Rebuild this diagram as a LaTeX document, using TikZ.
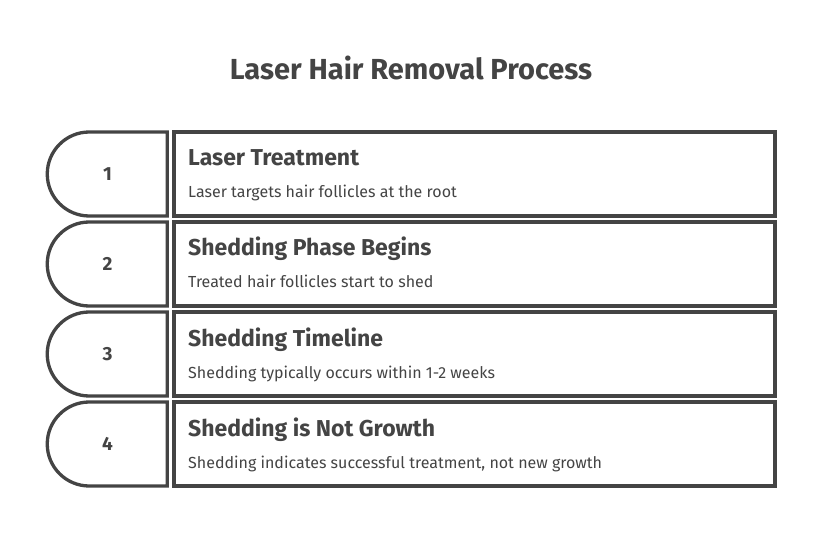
\documentclass[tikz,border=0pt]{standalone}
\usepackage{fontspec}
\setmainfont{Fira Sans}
\usetikzlibrary{shapes.misc}
\definecolor{ink}{HTML}{444444}
\begin{document}
\begin{tikzpicture}[x=1bp,y=-1bp,
  tab/.style={draw=ink, line width=3.3bp, fill=white, rounded rectangle, rounded rectangle right arc=none,
    minimum width=120bp, minimum height=84bp, inner sep=0pt, text=ink, font=\fontsize{19bp}{22bp}\selectfont\bfseries},
  card/.style={draw=ink, line width=3.3bp, fill=white, minimum width=601bp, minimum height=84bp, inner sep=0pt},
  head/.style={anchor=base west, inner sep=0pt, text=ink, font=\fontsize{23bp}{26bp}\selectfont\bfseries},
  desc/.style={anchor=base west, inner sep=0pt, text=ink, font=\fontsize{16bp}{19bp}\selectfont},
  ttl/.style={inner sep=0pt, text=ink, font=\fontsize{29bp}{33bp}\selectfont\bfseries}]
\useasboundingbox (0,0) rectangle (822,546);
\node[ttl] (title) at (411,68) {Laser Hair Removal Process};
\foreach \i/\h/\d [count=\k from 0] in {1/Laser Treatment/Laser targets hair follicles at the root,
  2/Shedding Phase Begins/Treated hair follicles start to shed,
  3/Shedding Timeline/Shedding typically occurs within 1-2 weeks,
  4/Shedding is Not Growth/Shedding indicates successful treatment{,} not new growth}{
  \node[tab] (t\i) at (107.5,174+90*\k) {\i};
  \node[card] (b\i) at (474.5,174+90*\k) {};
  \node[head] (h\i) at (188,166+90*\k) {\h};
  \node[desc] (d\i) at (188,198+90*\k) {\d};
}
\end{tikzpicture}
\end{document}
